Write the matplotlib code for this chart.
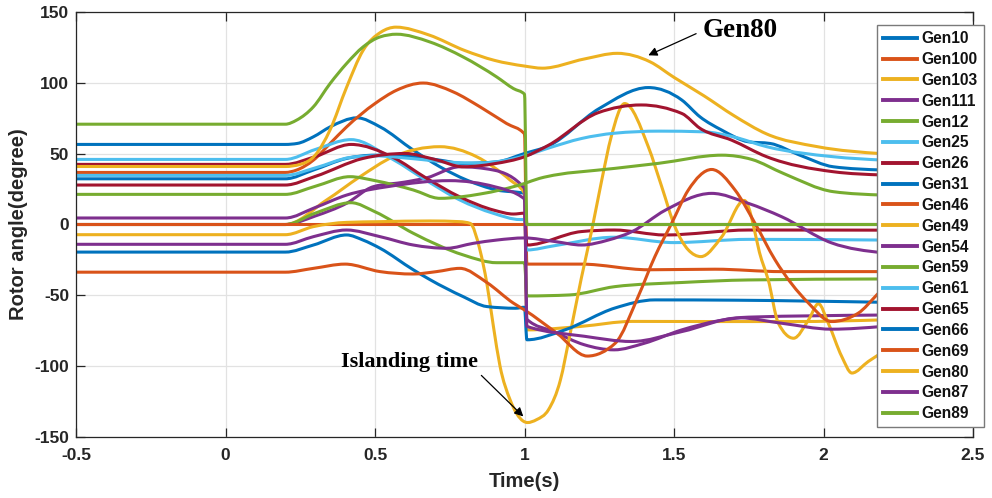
import matplotlib
matplotlib.use("Agg")
import numpy as np
import matplotlib.pyplot as plt
from matplotlib.path import Path
from matplotlib.patches import PathPatch
from matplotlib.lines import Line2D

plt.rcParams['font.family'] = ['Liberation Sans', 'DejaVu Sans']
plt.rcParams['axes.unicode_minus'] = False

# Rotor angle traces (time s, angle deg)
GEN10 = [(-0.5, 56.6), (0.2, 56.6), (0.24, 57.3), (0.294, 62), (0.35, 69), (0.44, 75.4), (0.517, 69),
         (0.628, 52.6), (0.717, 40.8), (0.807, 31.4), (0.907, 24.4), (1.0, 22), (1.008, 0), (2.2, 0)]
GEN100 = [(-0.5, 36.8), (0.2, 36.8), (0.238, 38.5), (0.294, 45.5), (0.35, 57.3), (0.405, 69), (0.5, 85.5),
          (0.572, 94.9), (0.661, 100), (0.762, 93.7), (0.851, 83.2), (0.94, 71.4), (1.0, 64), (1.008, -28),
          (1.19, -28), (1.414, -32), (1.637, -31.6), (1.86, -33.3), (2.2, -33.3)]
GEN103 = [(-0.5, 0), (0.2, 0), (0.338, 17.3), (0.45, 33.8), (0.561, 47.9), (0.717, 55), (0.84, 47.9),
          (0.952, 31.4), (1.0, 22), (1.008, -74.5), (1.19, -72), (1.36, -68.5), (1.64, -68.6), (1.9, -68.6),
          (2.2, -67.4)]
GEN111 = [(-0.5, 0), (0.2, 0), (0.3, 6), (0.405, 15), (0.494, 26.7), (0.6, 30), (0.673, 33), (0.784, 40.8),
          (0.896, 38.5), (1.0, 25.5), (1.008, -67), (1.1, -76), (1.2, -85), (1.3, -88.6), (1.4, -84),
          (1.526, -74.5), (1.65, -68), (1.748, -65.5), (2.2, -64)]
GEN12 = [(-0.5, 0), (0.2, 0), (0.3, 8), (0.42, 15.4), (0.5, 9), (0.628, -6.2), (0.795, -21.5), (0.907, -27),
         (1.0, -27), (1.008, -50.5), (1.15, -49.8), (1.303, -43.9), (1.526, -41), (1.748, -39.2), (2.2, -38.5)]
GEN25 = [(-0.5, 46), (0.2, 46), (0.3, 53), (0.42, 60), (0.56, 46), (0.67, 31.4), (0.784, 17.3), (0.896, 7.9),
         (0.985, 3.5), (1.0, 3.5), (1.008, -18), (1.1, -15), (1.3, -9), (1.5, -12.8), (1.75, -10.5), (2.2, -11)]
GEN26 = [(-0.5, 42.5), (0.2, 42.5), (0.3, 48), (0.42, 56.6), (0.56, 47.5), (0.67, 33), (0.784, 19.5),
         (0.9, 10), (0.963, 7.4), (1.0, 8), (1.008, -14.5), (1.19, -5), (1.3, -3.9), (1.47, -7.4),
         (1.75, -3.9), (2.2, -4)]
GEN31 = [(-0.5, 32.3), (0.2, 32.3), (0.294, 38.5), (0.405, 46.7), (0.5, 49), (0.628, 47.9), (0.717, 45.5),
         (0.795, 43.2), (0.907, 44.3), (1.0, 50.2), (1.08, 55.5), (1.25, 82), (1.414, 96.8), (1.526, 88),
         (1.587, 76.1), (1.66, 66.7), (1.748, 58.5), (1.821, 57.3), (1.921, 49), (2.033, 40.8), (2.2, 38.5)]
GEN46 = [(-0.5, 0), (2.2, 0)]
GEN49 = [(-0.5, -7.2), (0.2, -7.2), (0.294, -1.5), (0.405, 1.5), (0.517, 2), (0.684, 2.5), (0.784, 2),
         (0.818, 0.8), (0.851, -18), (0.874, -41.5), (0.896, -72), (0.918, -100), (0.952, -124),
         (0.996, -139), (1.01, -140), (1.04, -138), (1.08, -131), (1.12, -110), (1.15, -80), (1.19, -38),
         (1.225, -4), (1.258, 31), (1.29, 62), (1.335, 85.5), (1.414, 55), (1.459, 26.7), (1.503, -1.5),
         (1.548, -18), (1.59, -22.7), (1.66, -8.6), (1.735, 17), (1.793, -25), (1.815, -39), (1.849, -69.8),
         (1.9, -80.4), (1.95, -67.4), (1.983, -56), (2.016, -69.8), (2.061, -93.3), (2.095, -105),
         (2.15, -96.8), (2.2, -90)]
GEN54 = [(-0.5, -14), (0.2, -14), (0.294, -8.6), (0.405, -3.9), (0.517, -8.6), (0.628, -14.5), (0.74, -16.8),
         (0.829, -13.3), (0.907, -11), (1.0, -9.5), (1.1, -12), (1.191, -14.5), (1.28, -11), (1.36, -5),
         (1.47, 10), (1.626, 22), (1.748, 15), (1.86, 5.5), (2.027, -13), (2.2, -20)]
GEN59 = [(-0.5, 21.3), (0.2, 21.3), (0.3, 27), (0.416, 33.8), (0.5, 31), (0.628, 24.4), (0.717, 18.5),
         (0.85, 21.5), (1.0, 29), (1.05, 32.6), (1.303, 39.7), (1.447, 43.2), (1.66, 49), (1.76, 46),
         (1.866, 36.1), (2.033, 23.2), (2.2, 20.8)]
GEN61 = [(-0.5, 34.7), (0.2, 34.7), (0.3, 40), (0.42, 47.5), (0.5, 48.5), (0.628, 46.5), (0.75, 44),
         (0.85, 43.5), (1.0, 48.5), (1.08, 54), (1.191, 60.8), (1.3, 64.5), (1.45, 66), (1.6, 65.5),
         (1.698, 62), (1.81, 55), (2.033, 47.9), (2.2, 45.5)]
GEN65 = [(-0.5, 27.9), (0.2, 27.9), (0.3, 34), (0.46, 46.7), (0.6, 50.2), (0.7, 46), (0.795, 40.8),
         (0.9, 43), (1.0, 47.9), (1.08, 56), (1.246, 79), (1.39, 84.5), (1.526, 78.5), (1.587, 68),
         (1.693, 59.6), (1.81, 47.9), (2.033, 37.3), (2.2, 35)]
GEN66 = [(-0.5, -19.5), (0.2, -19.5), (0.294, -14.5), (0.405, -7.4), (0.46, -11), (0.517, -16.8),
         (0.628, -32), (0.684, -39), (0.795, -51), (0.874, -58), (0.97, -59.2), (1.0, -58.5), (1.008, -81.5),
         (1.135, -74.5), (1.303, -59), (1.436, -53.3), (1.7, -53.5), (2.2, -55)]
GEN69 = [(-0.5, -33.7), (0.2, -33.7), (0.294, -31), (0.4, -28), (0.517, -33.3), (0.627, -35), (0.706, -33.3),
         (0.784, -31), (0.874, -41), (0.963, -55.6), (1.0, -60.4), (1.108, -76.8), (1.21, -93), (1.303, -84),
         (1.38, -51), (1.436, -22.7), (1.492, 0.8), (1.548, 24.4), (1.626, 38.9), (1.704, 24.4),
         (1.771, 0.8), (1.838, -25), (1.95, -55.6), (2.027, -68.6), (2.116, -62.7), (2.178, -49.8),
         (2.2, -45)]
GEN80 = [(-0.5, 41), (0.2, 41), (0.25, 42.5), (0.3, 49), (0.35, 67), (0.405, 97), (0.46, 123), (0.52, 136),
         (0.57, 139.5), (0.68, 134), (0.8, 123), (0.9, 116), (1.0, 112), (1.06, 110.5), (1.2, 117),
         (1.31, 121), (1.42, 115), (1.5, 104), (1.6, 91), (1.7, 77), (1.81, 64), (1.98, 55), (2.2, 50)]
GEN87 = [(-0.5, 4.6), (0.2, 4.6), (0.3, 12), (0.405, 20.8), (0.55, 27), (0.75, 31), (0.9, 26.7), (1.0, 18),
         (1.008, -72), (1.2, -79), (1.358, -82.7), (1.526, -75.7), (1.72, -66), (1.86, -69.8),
         (2.027, -74), (2.2, -72)]
GEN89 = [(-0.5, 70.9), (0.2, 70.9), (0.238, 73.8), (0.294, 83.2), (0.35, 99.7), (0.405, 113.8),
         (0.46, 125.5), (0.517, 132.6), (0.572, 134.5), (0.684, 129), (0.795, 118.4), (0.907, 104.3),
         (0.963, 96.1), (1.0, 92.1), (1.008, 0), (2.2, 0)]

NAMES = ['Gen10', 'Gen100', 'Gen103', 'Gen111', 'Gen12', 'Gen25', 'Gen26', 'Gen31', 'Gen46', 'Gen49',
         'Gen54', 'Gen59', 'Gen61', 'Gen65', 'Gen66', 'Gen69', 'Gen80', 'Gen87', 'Gen89']
TRACES = [GEN10, GEN100, GEN103, GEN111, GEN12, GEN25, GEN26, GEN31, GEN46, GEN49,
          GEN54, GEN59, GEN61, GEN65, GEN66, GEN69, GEN80, GEN87, GEN89]

X_TICKS = [-0.5, 0, 0.5, 1, 1.5, 2, 2.5]
X_TICK_LABELS = ['-0.5', '0', '0.5', '1', '1.5', '2', '2.5']
Y_TICKS = [-150, -100, -50, 0, 50, 100, 150]

PALETTE = ['#0072BD', '#D95319', '#EDB120', '#7E2F8E', '#77AC30', '#4DBEEE', '#A2142F']


def monotone_path(points):
    """Smooth monotone cubic Bezier path through the given (x, y) points."""
    x = np.array([p[0] for p in points], float)
    y = np.array([p[1] for p in points], float)
    n = len(x)
    if n == 2:
        return Path(np.column_stack([x, y]), [Path.MOVETO, Path.LINETO])
    h = np.diff(x)
    s = np.diff(y) / h
    m = np.zeros(n)
    for i in range(1, n - 1):
        s0, s1 = s[i - 1], s[i]
        p = (s0 * h[i] + s1 * h[i - 1]) / (h[i - 1] + h[i])
        m[i] = (np.sign(s0) + np.sign(s1)) * min(abs(s0), abs(s1), 0.5 * abs(p))
    m[0] = (3 * s[0] - m[1]) / 2
    m[-1] = (3 * s[-1] - m[-2]) / 2
    verts = [(x[0], y[0])]
    codes = [Path.MOVETO]
    for i in range(n - 1):
        dx = h[i] / 3
        verts += [(x[i] + dx, y[i] + dx * m[i]), (x[i + 1] - dx, y[i + 1] - dx * m[i + 1]),
                  (x[i + 1], y[i + 1])]
        codes += [Path.CURVE4] * 3
    return Path(verts, codes)


fig = plt.figure(figsize=(9.92, 4.98), dpi=100)
ax = fig.add_axes([76 / 992, 1 - 436.7 / 498, 897 / 992, 424.4 / 498])

handles = []
for k, (name, pts) in enumerate(zip(NAMES, TRACES)):
    color = PALETTE[k % len(PALETTE)]
    patch = PathPatch(monotone_path(pts), facecolor='none', edgecolor=color, lw=2.2,
                      capstyle='round', joinstyle='round', zorder=2 + k * 0.01)
    ax.add_patch(patch)
    handles.append(Line2D([], [], color=color, lw=2.8, label=name))

ax.set_xlim(-0.5, 2.5)
ax.set_ylim(-150, 150)
ax.set_xticks(X_TICKS)
ax.set_xticklabels(X_TICK_LABELS)
ax.set_yticks(Y_TICKS)
ax.grid(True, color='#e2e2e2', lw=0.9)
ax.set_axisbelow(True)
ax.tick_params(direction='in', length=6.5, width=0.9, color='#262626', top=True, right=True,
               labelsize=12.5, labelcolor='#262626')
ax.tick_params(axis='x', pad=8)
ax.tick_params(axis='y', pad=5)
for lab in ax.get_xticklabels() + ax.get_yticklabels():
    lab.set_fontweight('bold')
for sp in ax.spines.values():
    sp.set_color('#262626')
    sp.set_linewidth(0.9)

ax.set_xlabel('Time(s)', fontsize=14.5, fontweight='bold', color='#262626')
ax.set_ylabel('Rotor angle(degree)', fontsize=14.5, fontweight='bold', color='#262626')
ax.xaxis.set_label_coords(0.5, -0.082)
ax.yaxis.set_label_coords(-0.054, 0.5)

serif = ['Liberation Serif', 'DejaVu Serif']
ax.annotate('Gen80', xy=(1.414, 119.6), xytext=(1.596, 137), textcoords='data',
            ha='left', va='center', fontsize=19.5, fontweight='bold', family=serif, zorder=10,
            arrowprops=dict(arrowstyle='-|>', color='k', lw=0.9, mutation_scale=13,
                            shrinkA=3, shrinkB=0, relpos=(0, 0.5)))
ax.annotate('Islanding time', xy=(0.996, -135.7), xytext=(0.614, -97), textcoords='data',
            ha='center', va='center', fontsize=16, fontweight='bold', family=serif, zorder=10,
            arrowprops=dict(arrowstyle='-|>', color='k', lw=0.9, mutation_scale=13,
                            shrinkA=1, shrinkB=0, relpos=(1, 0)))

leg = fig.legend(handles=handles, loc='upper left', bbox_to_anchor=(877 / 992, 1 - 25 / 498),
                 bbox_transform=fig.transFigure, prop={'weight': 'bold', 'size': 11.2},
                 frameon=True, fancybox=False, borderaxespad=0, borderpad=0.4, labelspacing=0.375,
                 handlelength=2.2, handletextpad=0.25)
leg.get_frame().set_edgecolor('#7a7a7a')
leg.get_frame().set_linewidth(1.0)
leg.get_frame().set_alpha(1)
for t in leg.get_texts():
    t.set_color('#111111')

fig.savefig('out.png', dpi=100)
